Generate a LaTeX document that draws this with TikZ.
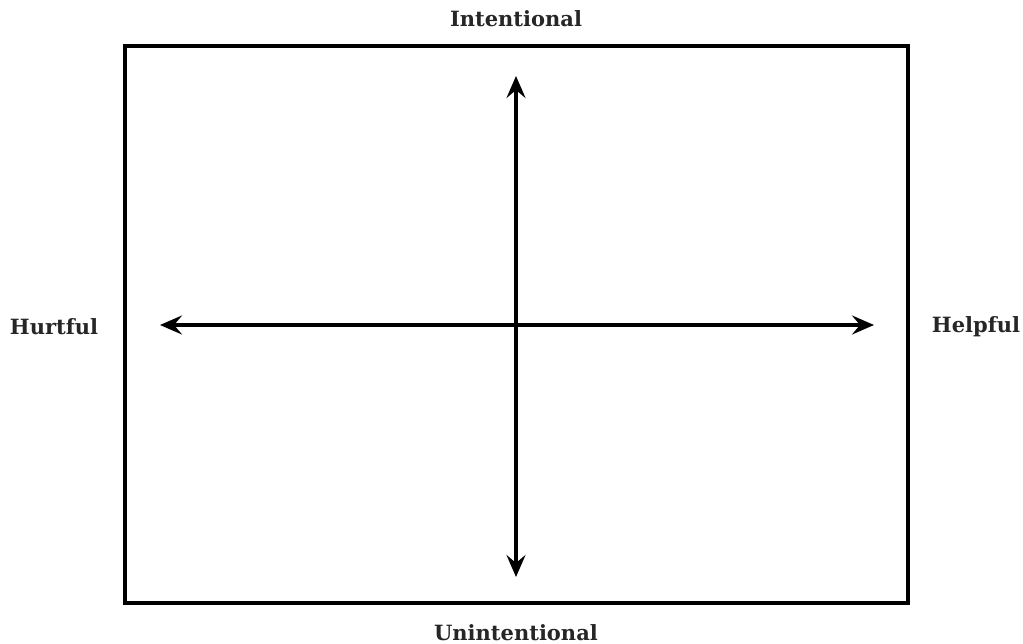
\documentclass[tikz,border=0pt]{standalone}
\usepackage{fontspec}
\setmainfont{DejaVu Serif}
\usetikzlibrary{arrows.meta}

\begin{document}
\begin{tikzpicture}[x=1pt, y=-1pt,
	axis/.style={line width=3.2pt, {Stealth[inset=8pt,length=22pt,width=19pt]}-{Stealth[inset=8pt,length=22pt,width=19pt]}},
	label/.style={font=\fontsize{21}{24}\selectfont\bfseries, text=black!85}]
				\useasboundingbox (0,0) rectangle (1023,644);
				\draw[line width=3.8pt] (125,46) rectangle (908,603);
				\node[label] (top) at(516,19){Intentional};
				\node[label] (bottom) at(516,633){Unintentional};
				\node[label] (left) at(54,327){Hurtful};
				\node[label] (right) at(976,327){Helpful};
				\coordinate (n) at(516,76);
				\coordinate (s) at(516,577);
				\coordinate (w) at(160,325);
				\coordinate (e) at(874,325);
				\draw[axis] (s) -- (n);
				\draw[axis] (w) -- (e);
			\end{tikzpicture}
\end{document}
